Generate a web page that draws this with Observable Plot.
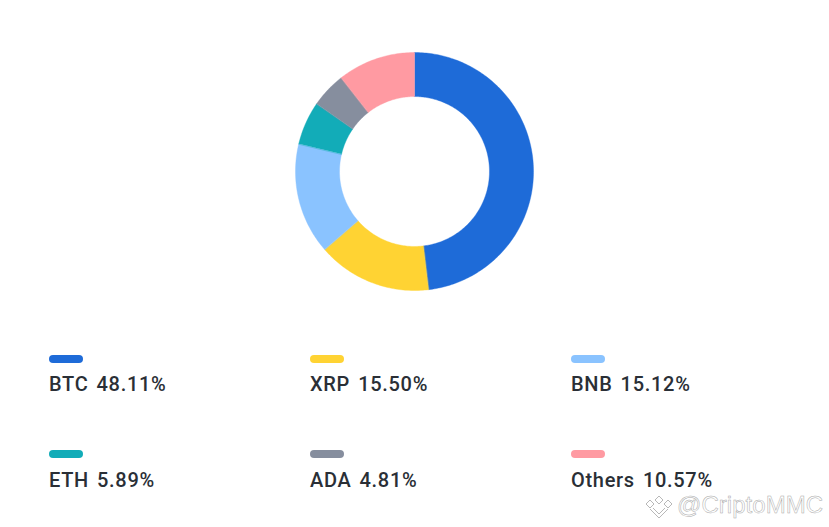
<!DOCTYPE html>
<html><head><meta charset="utf-8">
<script src="https://cdn.jsdelivr.net/npm/d3@7"></script>
<script src="https://cdn.jsdelivr.net/npm/@observablehq/plot@0.6"></script>
<style>
html,body{margin:0;padding:0;background:#fff;}
#wrap{position:relative;width:829px;height:527px;overflow:hidden;font-family:Roboto,sans-serif;}
#chart svg{display:block;}
.sw{position:absolute;width:34px;height:8px;border-radius:4px;}
.lb{position:absolute;font-size:20px;font-weight:500;line-height:24px;color:#2a2f36;white-space:pre;letter-spacing:.7px;word-spacing:2.4px;}
.wm{position:absolute;left:677px;top:490px;font-size:24px;line-height:30px;white-space:pre;color:#fff;-webkit-text-stroke:.5px #a9a9a9;font-family:"Liberation Sans",sans-serif;letter-spacing:.05px;}
#logo{position:absolute;left:645px;top:495px;}
</style></head><body>
<div id="wrap"><div id="chart"></div></div>
<script>
const categories = ["BTC","XRP","BNB","ETH","ADA","Others"];
const shares = [48.11,15.50,15.12,5.89,4.81,10.57];
const labels = ["48.11%","15.50%","15.12%","5.89%","4.81%","10.57%"];
const colors = ["#1e6bd8","#ffd333","#8ac3ff","#12acb8","#868e9e","#ff9aa2"];
const innerRatio = 0.63;

const W = 829, H = 340, R = 119, CX = 414, CY = 171;
const pie = d3.pie().sort(null).value((d, i) => shares[i])(categories);
const ring = [];
pie.forEach((s, i) => {
  const n = Math.max(2, Math.ceil((s.endAngle - s.startAngle) * 60));
  const ang = d3.range(n + 1).map(k => s.startAngle + (s.endAngle - s.startAngle) * k / n);
  const pt = (a, r) => ({cat: categories[i], x: r * Math.sin(a), y: r * Math.cos(a)});
  ang.forEach(a => ring.push(pt(a, 1)));
  ang.slice().reverse().forEach(a => ring.push(pt(a, innerRatio)));
});

const plot = Plot.plot({
  width: W, height: H, margin: 0,
  x: {domain: [-CX / R, (W - CX) / R], axis: null},
  y: {domain: [-(H - CY) / R, CY / R], axis: null},
  color: {domain: categories, range: colors},
  marks: [
    Plot.line(ring, {x: "x", y: "y", z: "cat", fill: "cat", stroke: "cat", strokeWidth: 0.4, curve: "linear-closed"})
  ]
});
document.getElementById("chart").appendChild(plot);

const wrap = document.getElementById("wrap");
const colX = [49, 310, 571], swY = [355, 450], txtY = [372, 468];
categories.forEach((c, i) => {
  const col = i % 3, row = Math.floor(i / 3);
  const sw = document.createElement("div");
  sw.className = "sw";
  sw.style.cssText = `left:${colX[col]}px;top:${swY[row]}px;background:${colors[i]}`;
  wrap.appendChild(sw);
  const lb = document.createElement("div");
  lb.className = "lb";
  lb.style.cssText = `left:${colX[col]}px;top:${txtY[row]}px`;
  lb.textContent = c + " " + labels[i];
  wrap.appendChild(lb);
});
const wm = document.createElement("div");
wm.className = "wm";
wm.textContent = "@CriptoMMC";
wrap.appendChild(wm);
const logo = d3.create("svg").attr("id","logo").attr("width",28).attr("height",24);
logo.append("path")
  .attr("d","M14 1l4 4-4 4-4-4zM5 5l4 4-4 4-4-4zM23 5l4 4-4 4-4-4zM8 13l6 6 6-6M5 14l9 9 9-9")
  .attr("fill","none").attr("stroke","#b0b0b0").attr("stroke-width",0.9);
wrap.appendChild(logo.node());
</script></body></html>
